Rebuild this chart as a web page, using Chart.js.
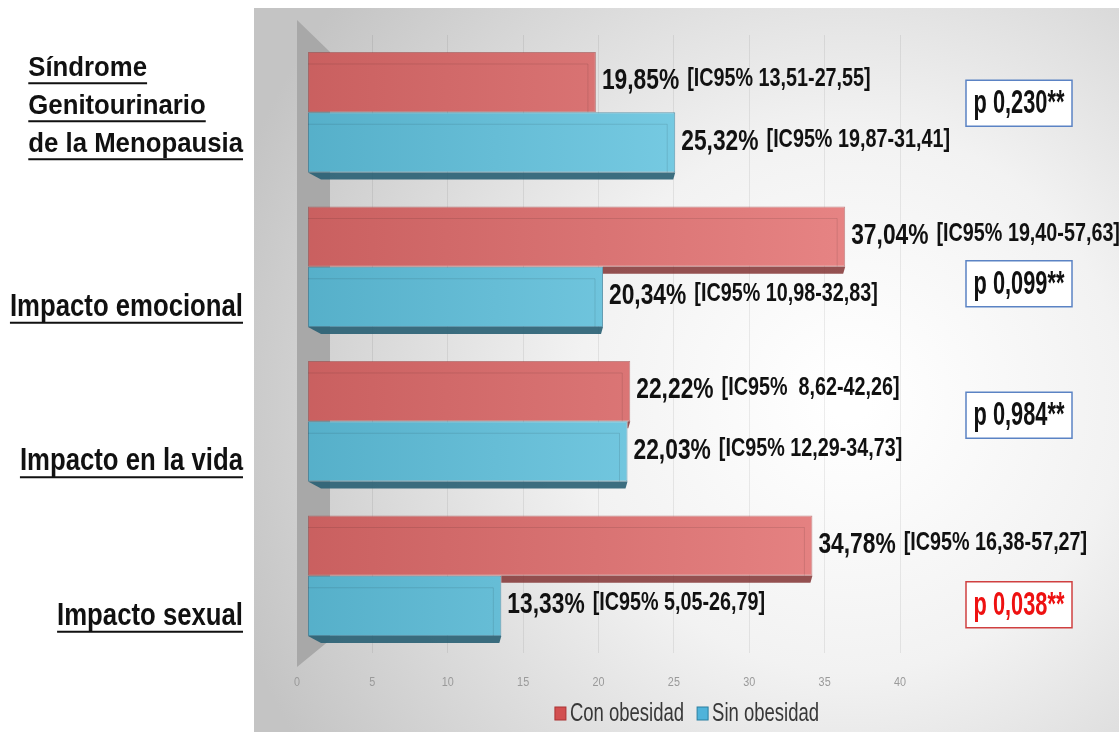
<!DOCTYPE html>
<html>
<head>
<meta charset="utf-8">
<script src="https://cdn.jsdelivr.net/npm/chart.js@4"></script>
<style>
  html, body { margin: 0; padding: 0; background: #ffffff; }
  canvas { display: block; }
</style>
</head>
<body>
<canvas id="chart-impacto" width="1119" height="732"></canvas>
<script>
// datos
const categorias = [
    ["Síndrome", "Genitourinario", "de la Menopausia"],
    "Impacto emocional",
    "Impacto en la vida",
    "Impacto sexual",
];
const series = ["Con obesidad", "Sin obesidad"];
const conObesidad = [19.85, 37.04, 22.22, 34.78];
const sinObesidad = [25.32, 20.34, 22.03, 13.33];
const icConObesidad = ["[IC95% 13,51-27,55]", "[IC95% 19,40-57,63]", "[IC95%  8,62-42,26]", "[IC95% 16,38-57,27]"];
const icSinObesidad = ["[IC95% 19,87-31,41]", "[IC95% 10,98-32,83]", "[IC95% 12,29-34,73]", "[IC95% 5,05-26,79]"];
const pValores = ["p 0,230**", "p 0,099**", "p 0,984**", "p 0,038**"];
const pSignificativo = [false, false, false, true];
const ticksX = [0, 5, 10, 15, 20, 25, 30, 35, 40];

const FUENTE = '"Liberation Sans", Arial, sans-serif';
const colorRojo = "#d24f50";
const colorAzul = "#4fb3da";

const gradienteBarra = (ctx, izq, der) => {
    const area = ctx.chart.chartArea;
    if (!area) return izq;
    const g = ctx.chart.ctx.createLinearGradient(area.left, 0, area.left + 600, 0);
    g.addColorStop(0, izq);
    g.addColorStop(1, der);
    return g;
};

const fmt = (v) => v.toFixed(2).replace(".", ",") + "%";

// texto estrecho (la fuente original es condensada)
const textoEstrecho = (c, txt, x, y, escala) => {
    c.save();
    c.translate(x, y);
    c.scale(escala, 1);
    c.fillText(txt, 0, 0);
    c.restore();
    return c.measureText(txt).width * escala;
};

// fondo gris del panel y pared lateral
const fondoPlugin = {
    id: "fondo",
    beforeDraw(chart) {
        const c = chart.ctx;
        c.save();
        c.fillStyle = "#ffffff";
        c.fillRect(0, 0, chart.width, chart.height);
        const g = c.createRadialGradient(850, 400, 20, 850, 400, 650);
        g.addColorStop(0, "#ffffff");
        g.addColorStop(0.4, "#f2f2f2");
        g.addColorStop(1, "#c4c4c4");
        c.fillStyle = g;
        c.fillRect(254, 8, chart.width - 254, chart.height - 8);
        c.restore();
    },
    beforeDatasetsDraw(chart) {
        const c = chart.ctx;
        const a = chart.chartArea;
        c.save();
        // pared izquierda
        c.fillStyle = "#a8a8a8";
        c.beginPath();
        c.moveTo(a.left, a.top - 15);
        c.lineTo(a.left + 33, a.top + 17);
        c.lineTo(a.left + 33, a.bottom - 13);
        c.lineTo(a.left, a.bottom + 14);
        c.closePath();
        c.fill();
        c.restore();
    },
};

// efecto 3D, etiquetas de valores, IC, p, categorias, ticks y leyenda
const etiquetasPlugin = {
    id: "etiquetas",
    afterDatasetsDraw(chart) {
        const c = chart.ctx;
        const a = chart.chartArea;
        const rojas = chart.getDatasetMeta(0).data;
        const azules = chart.getDatasetMeta(1).data;
        c.save();

        // caras inferiores
        const cara = (bar, desde, color) => {
            const bottom = bar.y + bar.height / 2;
            c.fillStyle = color;
            c.beginPath();
            c.moveTo(desde, bottom);
            c.lineTo(bar.x, bottom);
            c.lineTo(bar.x - 2, bottom + 7);
            c.lineTo(Math.max(desde, bar.base + 13), bottom + 7);
            c.closePath();
            c.fill();
        };
        azules.forEach((b) => cara(b, b.base, "rgba(40,95,115,0.9)"));
        rojas.forEach((b, i) => {
            if (b.x > azules[i].x) cara(b, azules[i].x, "rgba(130,50,50,0.85)");
        });

        // aristas interiores
        [...rojas, ...azules].forEach((b) => {
            const top = b.y - b.height / 2;
            const bottom = b.y + b.height / 2;
            c.strokeStyle = "rgba(0,0,0,0.10)";
            c.lineWidth = 1;
            c.beginPath();
            c.moveTo(b.base, top + 12);
            c.lineTo(b.x - 8, top + 12);
            c.lineTo(b.x - 8, bottom);
            c.stroke();
        });

        // valores + IC
        c.textBaseline = "middle";
        c.textAlign = "left";
        c.fillStyle = "#111111";
        const valor = (bar, v, ic) => {
            c.font = "bold 30px " + FUENTE;
            const x = bar.x + 6;
            const w = textoEstrecho(c, fmt(v), x, bar.y - 1, 0.76);
            c.font = "bold 26px " + FUENTE;
            textoEstrecho(c, ic, x + w + 8, bar.y - 3, 0.76);
        };
        rojas.forEach((b, i) => valor(b, conObesidad[i], icConObesidad[i]));
        azules.forEach((b, i) => valor(b, sinObesidad[i], icSinObesidad[i]));

        // cajas de p
        const yScale = chart.scales.y;
        const desplazP = [-9, 17, -6, 29];
        pValores.forEach((p, i) => {
            const cy = yScale.getPixelForValue(i) + desplazP[i];
            const rojo = pSignificativo[i];
            c.fillStyle = "#ffffff";
            c.fillRect(966, cy - 23, 106, 46);
            c.strokeStyle = rojo ? "#d04040" : "#5b83c4";
            c.lineWidth = 1.5;
            c.strokeRect(966, cy - 23, 106, 46);
            c.fillStyle = rojo ? "#ee1111" : "#111111";
            c.font = "bold 33px " + FUENTE;
            c.textAlign = "center";
            textoEstrecho(c, p, 1019, cy + 1, 0.66);
        });

        // categorias subrayadas
        c.textAlign = "left";
        c.textBaseline = "alphabetic";
        c.fillStyle = "#111111";
        categorias.forEach((cat, i) => {
            const multi = Array.isArray(cat);
            const lineas = multi ? cat : [cat];
            const escala = multi ? 0.92 : 0.83;
            c.font = "bold " + (multi ? 28 : 31) + "px " + FUENTE;
            const anchos = lineas.map((l) => c.measureText(l).width * escala);
            const bloque = Math.max(...anchos);
            const x0 = 243 - bloque;
            const base = yScale.getPixelForValue(i) + (multi ? 40 : 49);
            lineas.forEach((l, k) => {
                const y = base - (lineas.length - 1 - k) * 38;
                textoEstrecho(c, l, x0, y, escala);
                c.fillRect(x0, y + 6, anchos[k], 2);
            });
        });

        // ticks del eje x
        const x2 = chart.scales.x2;
        c.textAlign = "center";
        c.textBaseline = "middle";
        c.fillStyle = "#9a9a9a";
        c.font = "12px " + FUENTE;
        ticksX.forEach((v) => {
            textoEstrecho(c, String(v), x2.getPixelForValue(v), a.bottom + 30, 0.9);
        });

        // leyenda
        c.textAlign = "left";
        c.font = "25px " + FUENTE;
        const colores = [colorRojo, colorAzul];
        const bordes = ["#a33", "#2a7fa0"];
        const anchosLeyenda = series.map((s) => c.measureText(s).width * 0.74);
        const total = anchosLeyenda.reduce((s, w) => s + w + 15, 0) + 13;
        let lx = 687 - total / 2;
        series.forEach((s, i) => {
            c.fillStyle = colores[i];
            c.fillRect(lx, 707, 11, 13);
            c.strokeStyle = bordes[i];
            c.lineWidth = 1;
            c.strokeRect(lx, 707, 11, 13);
            c.fillStyle = "#383838";
            textoEstrecho(c, s, lx + 15, 714, 0.74);
            lx += 15 + anchosLeyenda[i] + 13;
        });
        c.restore();
    },
};

const dataImpacto = {
    labels: categorias,
    datasets: [
        {
            label: series[0],
            data: conObesidad,
            backgroundColor: (ctx) => gradienteBarra(ctx, "#c95f5f", "#e98787"),
            borderColor: "rgba(160,60,60,0.6)",
            borderWidth: 1,
            borderSkipped: false,
            barPercentage: 1,
            categoryPercentage: 0.78,
        },
        {
            label: series[1],
            data: sinObesidad,
            backgroundColor: (ctx) => gradienteBarra(ctx, "#55afc9", "#88d9f0"),
            borderColor: "rgba(40,120,150,0.7)",
            borderWidth: 1,
            borderSkipped: false,
            barPercentage: 1,
            categoryPercentage: 0.78,
        },
    ],
};

const configImpacto = {
    type: "bar",
    data: dataImpacto,
    options: {
        indexAxis: "y",
        responsive: false,
        animation: false,
        layout: {
            padding: { left: 297, right: 9, top: 35, bottom: 79 },
        },
        scales: {
            x: {
                type: "linear",
                min: -0.76,
                max: 55.3,
                display: false,
            },
            // eje de ticks (plano trasero)
            x2: {
                type: "linear",
                position: "bottom",
                min: 0,
                max: 53.93,
                afterBuildTicks: (scale) => {
                    scale.ticks = ticksX.map((v) => ({ value: v }));
                },
                ticks: { display: false },
                grid: {
                    color: "rgba(0,0,0,0.07)",
                    drawTicks: false,
                },
                border: { display: false },
            },
            y: {
                type: "category",
                display: false,
            },
        },
        plugins: {
            legend: { display: false },
            tooltip: { enabled: false },
        },
    },
    plugins: [fondoPlugin, etiquetasPlugin],
};

new Chart(document.getElementById("chart-impacto"), configImpacto);
</script>
</body>
</html>
